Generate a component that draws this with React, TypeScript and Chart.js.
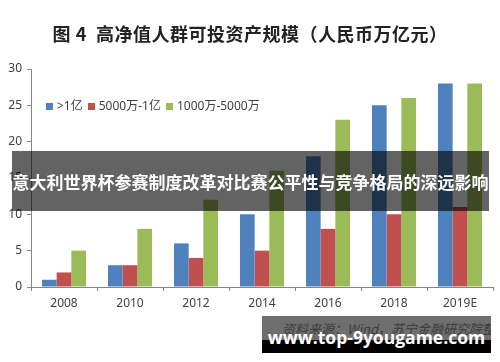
import React, { useEffect, useRef } from "react";
import { Chart, registerables } from "chart.js";

Chart.register(...registerables);

const categories = ["2008", "2010", "2012", "2014", "2016", "2018", "2019E"];
const seriesNames = [">1亿", "5000万-1亿", "1000万-5000万"];
const over1yi = [1, 3, 6, 10, 18, 25, 28];
const mid5000 = [2, 3, 4, 5, 8, 10, 11];
const low1000 = [5, 8, 12, 16, 23, 26, 28];
const colors = ["#4F81BD", "#C0504D", "#9BBB59"];
const yTicks = [0, 5, 10, 15, 20, 25, 30];

const titleText = "图 4  高净值人群可投资产规模（人民币万亿元）";
const bannerText = "意大利世界杯参赛制度改革对比赛公平性与竞争格局的深远影响";
const sourceText = "资料来源：Wind，苏宁金融研究院整理";
const siteText = "www.top-9yougame.com";

const FONT = "'Noto Sans', 'Noto Sans CJK SC', sans-serif";

export default function App() {
  const ref = useRef<HTMLCanvasElement | null>(null);

  useEffect(() => {
    document.body.style.margin = "0";
    const ctx = ref.current;
    if (!ctx) return;
    const axisColor = "#868686";
    const chart = new Chart(ctx, {
      type: "bar",
      data: {
        labels: categories,
        datasets: [over1yi, mid5000, low1000].map((d, i) => ({
          label: seriesNames[i],
          data: d,
          backgroundColor: colors[i],
          borderWidth: 0,
          categoryPercentage: 0.667,
          barPercentage: 1,
        })),
      },
      options: {
        animation: false,
        responsive: false,
        maintainAspectRatio: false,
        layout: { padding: { left: 0, right: 7, top: 69, bottom: 0 } },
        plugins: {
          legend: { display: false },
          title: { display: false },
          tooltip: { enabled: false },
        },
        scales: {
          x: {
            offset: true,
            grid: {
              offset: true,
              drawOnChartArea: false,
              drawTicks: true,
              tickLength: 4,
              color: axisColor,
            },
            border: { color: axisColor, width: 1 },
            ticks: {
              color: "#404040",
              font: { family: FONT, size: 12 },
              padding: 5,
            },
            afterFit: (s: any) => {
              s.height = 75;
            },
          },
          y: {
            min: 0,
            max: 30,
            afterBuildTicks: (s: any) => {
              s.ticks = yTicks.map((v) => ({ value: v }));
            },
            grid: {
              drawOnChartArea: false,
              drawTicks: true,
              tickLength: 4,
              color: axisColor,
            },
            border: { color: axisColor, width: 1 },
            ticks: {
              color: "#404040",
              font: { family: FONT, size: 12 },
              padding: 5,
            },
            afterFit: (s: any) => {
              s.width = 31;
            },
          },
        },
      },
    });
    return () => chart.destroy();
  }, []);

  return (
    <div
      style={{
        position: "fixed",
        left: 0,
        top: 0,
        width: 500,
        height: 362,
        background: "#fff",
        overflow: "hidden",
        fontFamily: FONT,
      }}
    >
      <canvas ref={ref} width={500} height={362} style={{ position: "absolute", left: 0, top: 0 }} />
      <div
        style={{
          position: "absolute",
          left: 0,
          top: 21,
          width: 500,
          textAlign: "center",
          fontSize: 18,
          fontWeight: 700,
          color: "#222",
          whiteSpace: "pre",
          lineHeight: "24px",
          letterSpacing: "0.5px",
          fontFamily: "'Noto Sans CJK SC', sans-serif",
        }}
      >
        {titleText}
      </div>
      <div
        style={{
          position: "absolute",
          left: 46,
          top: 98,
          display: "flex",
          alignItems: "center",
          fontSize: 12,
          color: "#404040",
          lineHeight: "16px",
          whiteSpace: "nowrap",
        }}
      >
        {seriesNames.map((n, i) => (
          <div key={n} style={{ display: "flex", alignItems: "center", marginRight: 5 }}>
            <span style={{ display: "inline-block", width: 7, height: 7, background: colors[i], marginRight: 4 }} />
            <span>{n}</span>
          </div>
        ))}
      </div>
      <div
        style={{
          position: "absolute",
          left: 12,
          top: 151,
          width: 477,
          height: 60,
          background: "rgba(0,0,0,0.61)",
          display: "flex",
          alignItems: "center",
          justifyContent: "center",
          color: "#fff",
          fontWeight: 700,
          fontSize: 17,
          whiteSpace: "nowrap",
          fontFamily: "'Noto Sans CJK SC', sans-serif",
        }}
      >
        {bannerText}
      </div>
      <div
        style={{
          position: "absolute",
          left: 262,
          top: 316,
          width: 229,
          height: 37,
          overflow: "hidden",
          background: "#000",
        }}
      >
        <div style={{ position: "absolute", left: 0, top: 0, width: 229, height: 24, background: "#6e6e6e" }} />
        <div
          style={{
            position: "absolute",
            left: 20,
            top: 5,
            fontSize: 13,
            fontStyle: "italic",
            color: "#3c3c3c",
            whiteSpace: "nowrap",
            lineHeight: "16px",
            fontFamily: "'Noto Sans CJK SC', sans-serif",
          }}
        >
          {sourceText}
        </div>
        <div
          style={{
            position: "absolute",
            left: 0,
            top: 8,
            width: 229,
            textAlign: "center",
            fontSize: 17.5,
            fontWeight: 700,
            color: "#fff",
            whiteSpace: "nowrap",
            lineHeight: "26px",
            fontFamily: "'Open Sans', sans-serif",
          }}
        >
          {siteText}
        </div>
      </div>
    </div>
  );
}
